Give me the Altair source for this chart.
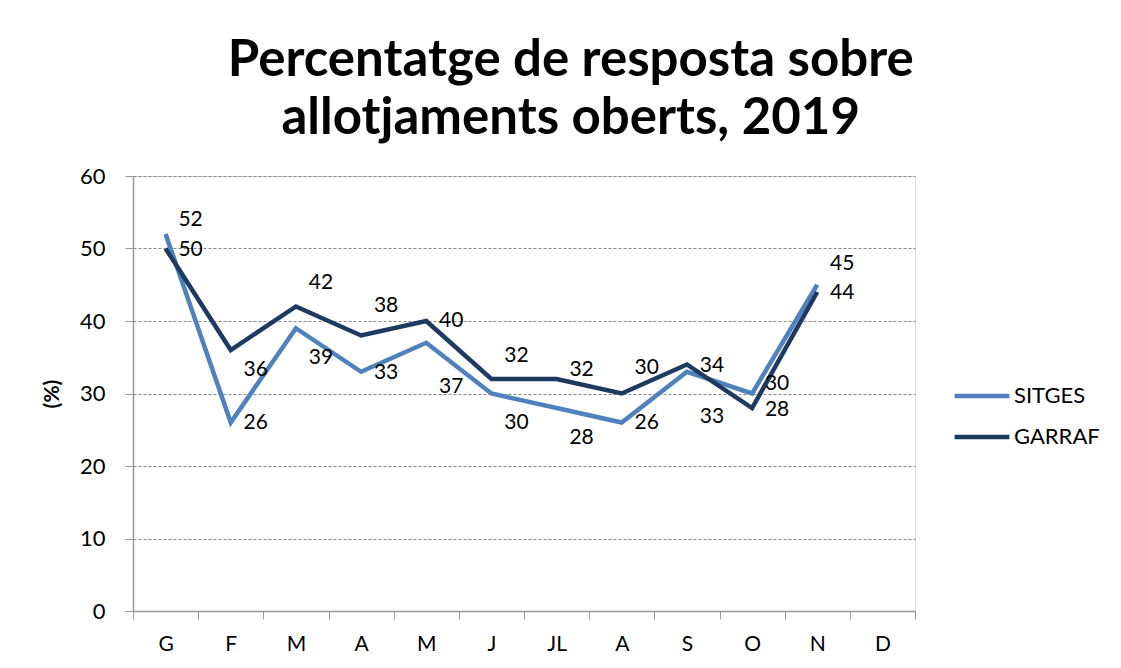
import json
import altair as alt
import pandas as pd

months = ["G", "F", "M", "A", "M", "J", "JL", "A", "S", "O", "N", "D"]
sitges = [52, 26, 39, 33, 37, 30, 28, 26, 33, 30, 45, None]
garraf = [50, 36, 42, 38, 40, 32, 32, 30, 34, 28, 44, None]
# where each data label sits, in % units (labels were placed by hand in the original)
sitges_label_at = [53.9, 25.9, 34.9, 32.8, 30.9, 25.9, 23.9, 25.9, 26.8, 31.3, 47.9, None]
garraf_label_at = [49.8, 33.2, 45.2, 42.1, 40.0, 35.2, 33.2, 33.5, 33.8, 27.7, 43.9, None]
series_names = ["SITGES", "GARRAF"]
series_colors = ["#4F81BD", "#1F3A60"]

rows = []
for name, vals, labs in [("SITGES", sitges, sitges_label_at), ("GARRAF", garraf, garraf_label_at)]:
    for i, (v, l) in enumerate(zip(vals, labs)):
        if v is None:
            continue
        rows.append({"idx": i, "serie": name, "value": v, "label_y": l})
df = pd.DataFrame(rows)

FONT = "Lato"
label_expr = json.dumps(months) + "[datum.value]"

x_enc = alt.X(
    "idx:O",
    scale=alt.Scale(type="band", domain=list(range(12)), paddingInner=0, paddingOuter=0),
    axis=alt.Axis(
        title=None, labelExpr=label_expr, tickBand="extent", labelAngle=0,
        labelFontSize=21, labelFont=FONT, labelColor="#000", labelPadding=14,
        domainColor="#999", domainWidth=1.5, tickColor="#999", tickSize=8, grid=False,
    ),
    bandPosition=0.5,
)

y_scale = alt.Scale(domain=[0, 60])

lines = alt.Chart(df).mark_line(strokeWidth=4.5).encode(
    x=x_enc,
    y=alt.Y(
        "value:Q", scale=y_scale,
        axis=alt.Axis(
            title="(%)", values=[0, 10, 20, 30, 40, 50, 60], labelFontSize=22, labelFont=FONT,
            labelColor="#000", titleFontSize=21, titleFont=FONT, titleColor="#000",
            titleFontWeight="bold", titlePadding=17, labelPadding=20,
            domainColor="#999", domainWidth=1.5, tickColor="#999", tickSize=8,
            gridColor="#888", gridDash=[3, 2], gridWidth=1,
        ),
    ),
    color=alt.Color(
        "serie:N",
        scale=alt.Scale(domain=series_names, range=series_colors),
        legend=alt.Legend(
            title=None, orient="none", legendX=819, legendY=190,
            symbolType="stroke", symbolSize=3000, symbolStrokeWidth=4.5,
            labelFontSize=22, labelFont=FONT, labelColor="#000",
            rowPadding=-12, labelOffset=2,
        ),
    ),
)

labels = alt.Chart(df).mark_text(fontSize=21, font=FONT, color="#000", dx=25).encode(
    x=x_enc,
    y=alt.Y("label_y:Q", scale=y_scale),
    text=alt.Text("value:Q"),
    detail="serie:N",
)

chart = alt.layer(lines, labels).properties(
    width=782,
    height=435,
    padding={"left": 33, "top": 27, "right": 5, "bottom": 5},
    title=alt.TitleParams(
        text=["Percentatge de resposta sobre", "allotjaments oberts, 2019"],
        font=FONT, fontSize=51, fontWeight="bold", color="#000",
        anchor="middle", frame="bounds", lineHeight=58, offset=20,
    ),
).configure_view(stroke=None).configure(background="white")

chart.save("out.html", embed_options={"renderer": "svg", "actions": False})
